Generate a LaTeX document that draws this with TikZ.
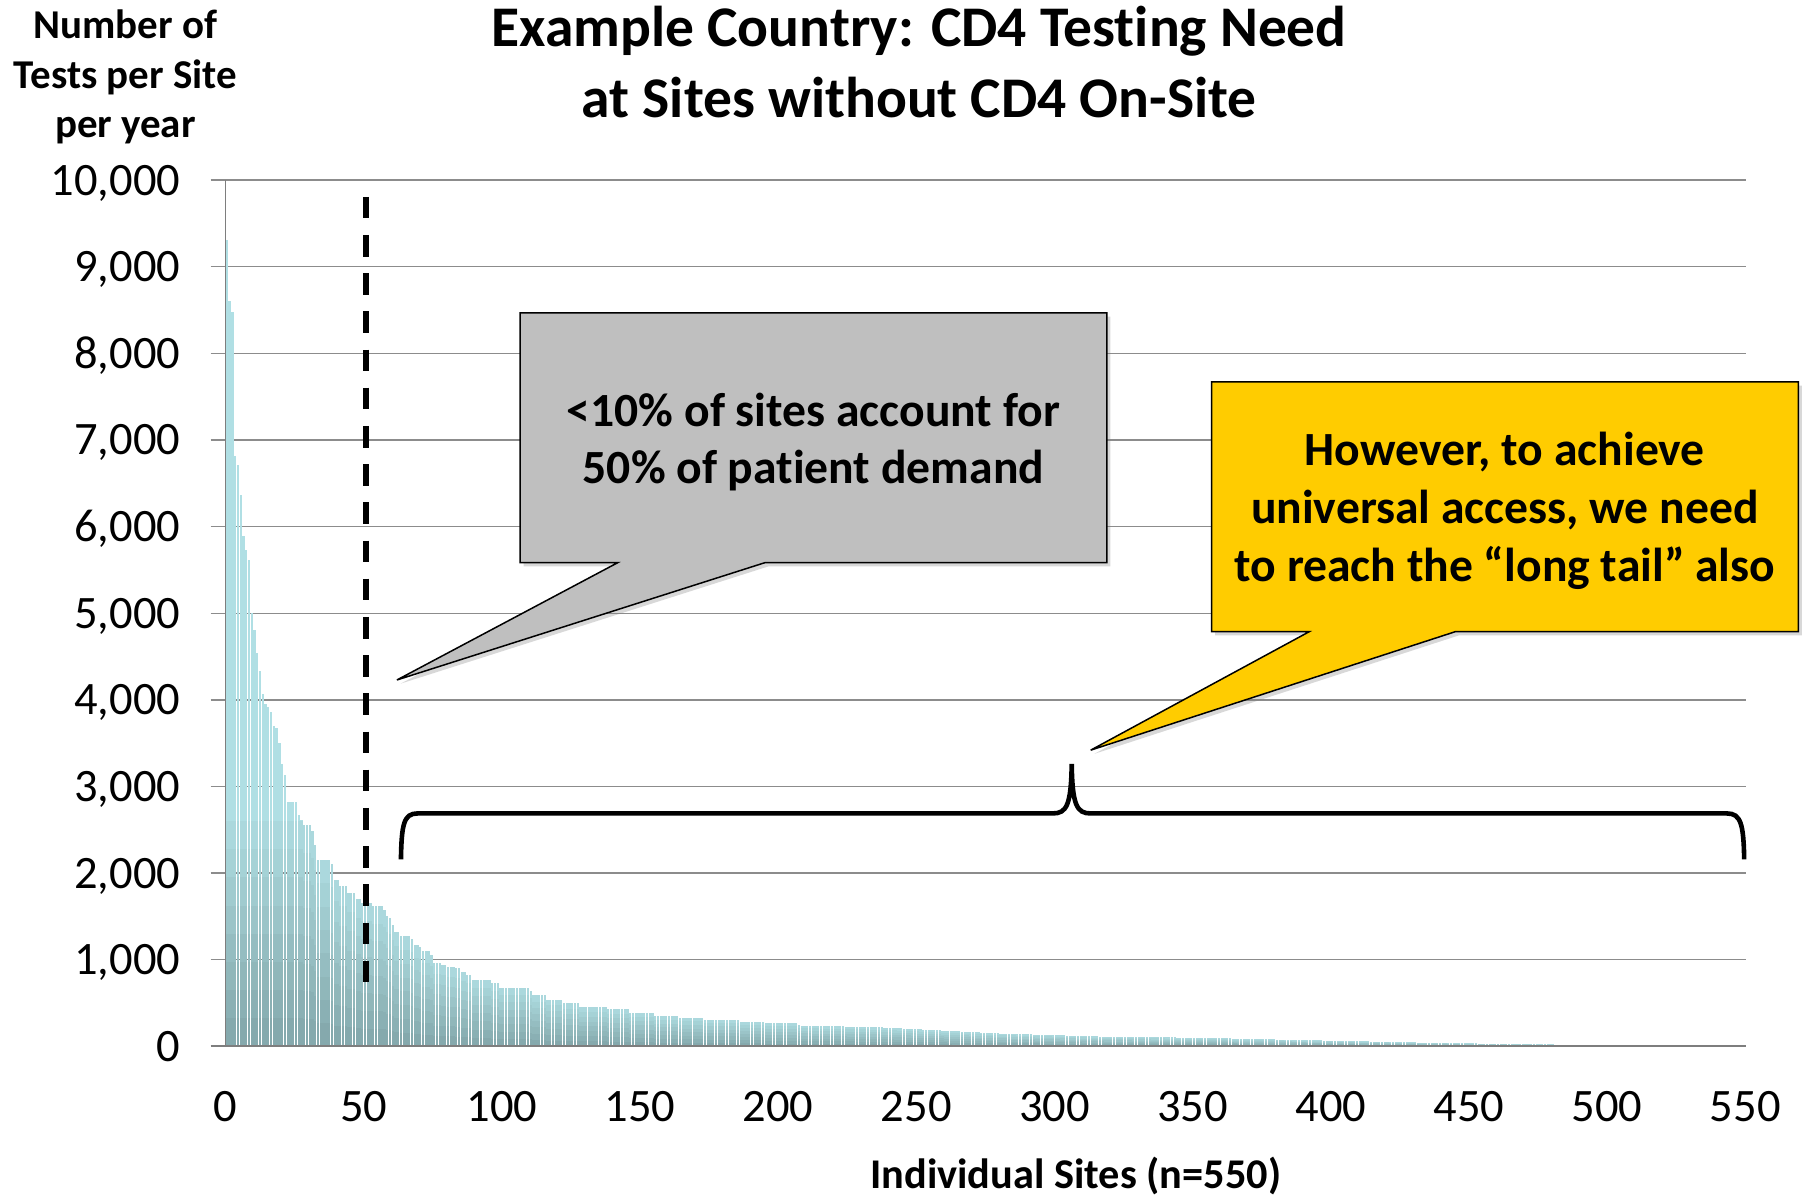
\documentclass[tikz,border=0pt]{standalone}
\usepackage{fontspec}
\setmainfont{Carlito}[Ligatures={TeX,NoCommon}]
\usetikzlibrary{shadows}
\definecolor{barlight}{HTML}{B0DFE4}
\definecolor{bardark}{HTML}{7FA2A5}
\definecolor{gridgray}{HTML}{8C8C8C}
\definecolor{calloutgray}{HTML}{BFBFBF}
\definecolor{calloutyellow}{HTML}{FFCC00}
\tikzset{
  gridline/.style={draw=gridgray, line width=0.6pt},
  axisline/.style={draw=gridgray!90!black, line width=0.7pt},
  ticklabel/.style={font=\fontsize{20.2}{24}\selectfont, inner sep=0pt},
  axtitle/.style={font=\fontsize{17.8}{21.5}\selectfont\bfseries, align=center, inner sep=0pt},
  xtitle/.style={font=\fontsize{18.4}{21.5}\selectfont\bfseries, inner sep=0pt},
  titletext/.style={font=\fontsize{25}{31}\selectfont\bfseries, align=center, inner sep=0pt},
  callout/.style={draw=black, line width=0.65pt, drop shadow={shadow xshift=1.6pt, shadow yshift=-1.6pt, opacity=0.3}},
  callouttext/.style={font=\fontsize{20.7}{25}\selectfont\bfseries, align=center, inner sep=0pt},
  bracecurve/.style={draw=black, line width=2pt},
  cutline/.style={draw=black, line width=2.6pt, dash pattern=on 9.4pt off 7.2pt}
}
\begin{document}
\begin{tikzpicture}[x=0.5pt,y=-0.5pt]
\useasboundingbox[fill=white] (0,0) rectangle (1568,1041);
% gridlines
\foreach \i in {1,...,10} \draw[gridline] (183,{909.5-75.3*\i}) -- (1518,{909.5-75.3*\i});
% bars
\foreach \ra/\rb/\va/\vb in {1/1/9310/9310,2/2/8600/8600,3/3/8480/8480,4/4/6810/6810,5/5/6710/6710,6/6/6370/6370,7/7/5890/5890,8/8/5730/5730,9/9/5620/5620,10/10/5000/5000,11/11/4810/4810,12/12/4540/4540,13/13/4330/4330,14/14/4070/4070,15/15/3950/3950,16/16/3920/3920,17/17/3860/3860,18/18/3700/3700,19/19/3670/3670,20/20/3500/3500,21/21/3260/3260,22/22/3130/3130,23/26/2820/2820,27/27/2670/2670,28/28/2610/2610,29/31/2550/2550,32/32/2490/2490,33/33/2330/2330,34/38/2150/2150,39/39/2100/2100,40/41/1920/1920,42/44/1850/1850,45/47/1770/1770,48/49/1700/1700,50/53/1650/1650,54/57/1620/1620,58/58/1580/1580,59/59/1510/1510,60/60/1480/1480,61/61/1400/1400,62/63/1320/1320,64/67/1270/1270,68/68/1240/1240,69/70/1170/1170,71/71/1150/1150,72/74/1100/1100,75/75/1060/1060,76/78/960/960,79/80/940/940,81/83/920/920,84/85/900/900,86/87/860/860,88/89/830/830,90/96/770/770,97/99/730/730,100/110/680/680,111/111/640/640,112/116/590/590,117/122/540/540,123/128/500/500,129/138/460/460,139/146/430/430,147/155/390/390,156/164/350/350,165/173/330/330,174/186/310/310,187/195/280/280,196/207/265/265,208/238/242/220,239/280/218/150,281/316/149/115,317/352/114/100,353/427/99/48,428/443/47/38,444/474/37/26,475/492/25/17,493/512/16/9}{
  \foreach \k in {\ra,...,\rb}{
    \pgfmathsetmacro{\v}{\va+(\vb-\va)*(\k-\ra)/(\rb-\ra+0.0001)}
    \pgfmathsetmacro{\xl}{196+2.4018*(\k-1)+0.2}
    \pgfmathsetmacro{\xr}{196+2.4018*\k-0.2}
    \pgfmathsetmacro{\yt}{909.5-0.0753*\v}
    \pgfmathsetmacro{\hh}{0.0753*min(\v,2600)}
    \fill[barlight] (\xl,909.5) rectangle (\xr,\yt);
    \foreach \s/\pc in {1/11,2/22,3/33,4/44,5/55,6/66,7/77,8/88}
      \fill[bardark!\pc!barlight] (\xl,909.5) rectangle (\xr,{909.5-\hh*(9-\s)/8});
  }
}
% axes
\draw[axisline] (196,156.5) -- (196,909.5);
\draw[axisline, line width=0.9pt] (183,909.5) -- (1518,909.5);
% tick labels
\foreach \i/\t in {0/0,1/{1,000},2/{2,000},3/{3,000},4/{4,000},5/{5,000},6/{6,000},7/{7,000},8/{8,000},9/{9,000},10/{10,000}}
  \node[ticklabel, anchor=base east] (yt\i) at (157,{909.5-75.3*\i+13}) {\t};
\foreach \n in {0,50,...,550}
  \node[ticklabel, anchor=base] (xt\n) at ({196+2.4018*\n},975) {\n};
% titles
\node[titletext] (title) at (799,54) {Example Country: CD4 Testing Need\\at Sites without CD4 On-Site};
\node[axtitle] (ylab) at (109,67) {Number of\\Tests per Site\\per year};
\node[xtitle] (xlab) at (935,1022) {Individual Sites (n=550)};
% dashed cut line
\coordinate (cuttop) at (318.5,171);
\coordinate (cutbot) at (318.5,866);
\draw[cutline] (cuttop) -- (cutbot);
% brace
\draw[bracecurve] (348.5,747) .. controls (349,716) and (351,707) .. (363,707) -- (915,707) .. controls (927,707) and (931,700) .. (931.5,664) .. controls (932,700) and (936,707) .. (948,707) -- (1501,707) .. controls (1513,707) and (1515.5,716) .. (1516,747);
% callouts
\filldraw[callout, fill=calloutgray] (452,272) -- (962,272) -- (962,489) -- (665,489) -- (345,591) -- (537,489) -- (452,489) -- cycle;
\filldraw[callout, fill=calloutyellow] (1053,332) -- (1563,332) -- (1563,549) -- (1265,549) -- (948,652) -- (1138,549) -- (1053,549) -- cycle;
\node[callouttext] (graytext) at (707,384) {<10\% of sites account for\\50\% of patient demand};
\node[callouttext] (yellowtext) at (1308,444) {However, to achieve\\universal access, we need\\to reach the “long tail” also};
\end{tikzpicture}
\end{document}
